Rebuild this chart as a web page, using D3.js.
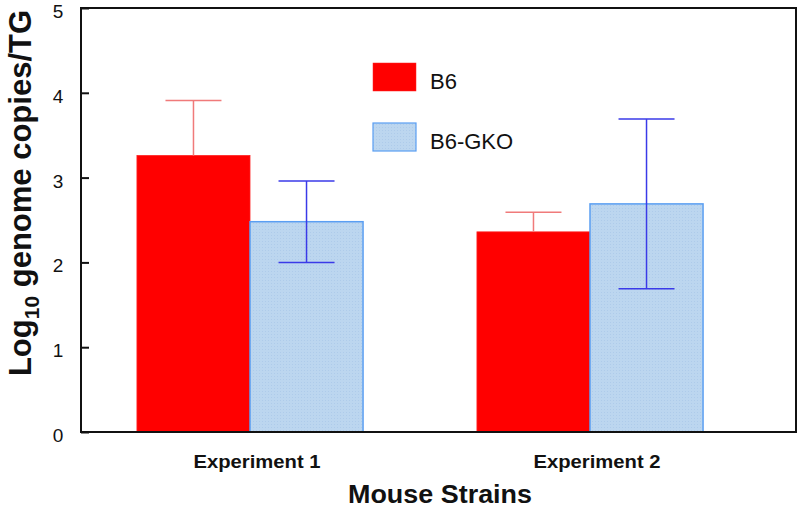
<!DOCTYPE html>
<html><head><meta charset="utf-8">
<script src="https://cdnjs.cloudflare.com/ajax/libs/d3/7.8.5/d3.min.js"></script>
<style>body{margin:0;background:#fff}svg{display:block}text{font-family:"Liberation Sans",Arial,sans-serif}</style>
</head><body><svg id="c" width="800" height="511"></svg>
<script>
const categories = ["Experiment 1", "Experiment 2"];
const seriesNames = ["B6", "B6-GKO"];
const b6Values = [3.26, 2.36];
const b6Errors = [0.65, 0.23];
const gkoValues = [2.48, 2.69];
const gkoErrors = [0.48, 1.0];
const yTicks = [0, 1, 2, 3, 4, 5];

const svg = d3.select("#c");
const L = 81, R = 796, T = 8, B = 432;
const y = d3.scaleLinear().domain([0, 5]).range([B, T]);
const x0 = d3.scaleBand().domain(categories).range([80, 760]).paddingInner(0.335).paddingOuter(0.1675);
const x1 = d3.scaleBand().domain(seriesNames).range([0, x0.bandwidth()]);

const styles = {
  "B6": {fill: "#ff0000", stroke: "#ff2020", err: "#f07a7a"},
  "B6-GKO": {fill: "#bcd6ef", stroke: "#5a9ef2", err: "#3a3ae8"}
};

const data = [];
categories.forEach((c, i) => {
  data.push({cat: c, s: "B6", v: b6Values[i], e: b6Errors[i]});
  data.push({cat: c, s: "B6-GKO", v: gkoValues[i], e: gkoErrors[i]});
});

const defs = svg.append("defs");
const pat = defs.append("pattern").attr("id", "dots").attr("width", 3).attr("height", 3).attr("patternUnits", "userSpaceOnUse");
pat.append("rect").attr("width", 3).attr("height", 3).attr("fill", "#bcd6ef");
pat.append("rect").attr("x", 1).attr("y", 1).attr("width", 1).attr("height", 1).attr("fill", "#aecbea");

const g = svg.append("g");
g.selectAll("rect.bar").data(data).join("rect")
  .attr("class", "bar")
  .attr("x", d => x0(d.cat) + x1(d.s))
  .attr("y", d => y(d.v))
  .attr("width", x1.bandwidth())
  .attr("height", d => y(0) - y(d.v))
  .attr("fill", d => d.s === "B6-GKO" ? "url(#dots)" : styles[d.s].fill)
  .attr("stroke", d => styles[d.s].stroke)
  .attr("stroke-width", d => d.s === "B6-GKO" ? 1.5 : 0.8);

const cap = 28;
data.forEach(d => {
  const cx = x0(d.cat) + x1(d.s) + x1.bandwidth() / 2;
  const col = styles[d.s].err;
  const lowV = d.s === "B6" ? d.v : d.v - d.e;
  g.append("line").attr("x1", cx).attr("x2", cx).attr("y1", y(lowV)).attr("y2", y(d.v + d.e))
    .attr("stroke", col).attr("stroke-width", 1.5);
  g.append("line").attr("x1", cx - cap).attr("x2", cx + cap).attr("y1", y(d.v + d.e)).attr("y2", y(d.v + d.e))
    .attr("stroke", col).attr("stroke-width", 1.5);
  if (d.s !== "B6") {
    g.append("line").attr("x1", cx - cap).attr("x2", cx + cap).attr("y1", y(d.v - d.e)).attr("y2", y(d.v - d.e))
      .attr("stroke", col).attr("stroke-width", 1.5);
  }
});

svg.append("rect").attr("x", L).attr("y", T).attr("width", R - L).attr("height", B - T)
  .attr("fill", "none").attr("stroke", "#111").attr("stroke-width", 2);

const yAxis = d3.axisRight(y).tickValues(yTicks).tickSize(8).tickFormat("");
const ya = svg.append("g").attr("transform", `translate(${L},0)`).call(yAxis);
ya.select(".domain").remove();
ya.selectAll("line").attr("stroke", "#111").attr("stroke-width", 2);
svg.selectAll("text.ytl").data(yTicks).join("text").attr("class", "ytl")
  .attr("x", 58).attr("y", d => y(d) + 10).attr("text-anchor", "middle")
  .attr("font-size", 19).attr("fill", "#111").text(d => d);

svg.selectAll("text.xtl").data(categories).join("text").attr("class", "xtl")
  .attr("x", d => x0(d) + x0.bandwidth() / 2 + 7).attr("y", 468).attr("text-anchor", "middle")
  .attr("font-size", 19).attr("font-weight", "bold").attr("fill", "#111")
  .attr("textLength", 127).attr("lengthAdjust", "spacingAndGlyphs").text(d => d);

svg.append("text").attr("x", 440).attr("y", 503).attr("text-anchor", "middle")
  .attr("font-size", 26).attr("font-weight", "bold").attr("fill", "#111")
  .attr("textLength", 184).attr("lengthAdjust", "spacingAndGlyphs").text("Mouse Strains");

const yt = svg.append("text").attr("transform", "translate(31,193) rotate(-90)")
  .attr("text-anchor", "middle").attr("font-size", 31).attr("font-weight", "bold").attr("fill", "#111");
yt.append("tspan").text("Log");
yt.append("tspan").attr("font-size", 21).attr("dy", 8).text("10");
yt.append("tspan").attr("dy", -8).text(" genome copies/TG");

const leg = svg.append("g");
seriesNames.forEach((s, i) => {
  const yy = 63 + i * 60;
  leg.append("rect").attr("x", 373).attr("y", yy).attr("width", 43).attr("height", 28)
    .attr("fill", s === "B6-GKO" ? "url(#dots)" : styles[s].fill).attr("stroke", styles[s].stroke)
    .attr("stroke-width", s === "B6-GKO" ? 1.2 : 0.5);
  leg.append("text").attr("x", 430).attr("y", yy + 26).attr("font-size", 22).attr("fill", "#111").text(s);
});
</script></body></html>
